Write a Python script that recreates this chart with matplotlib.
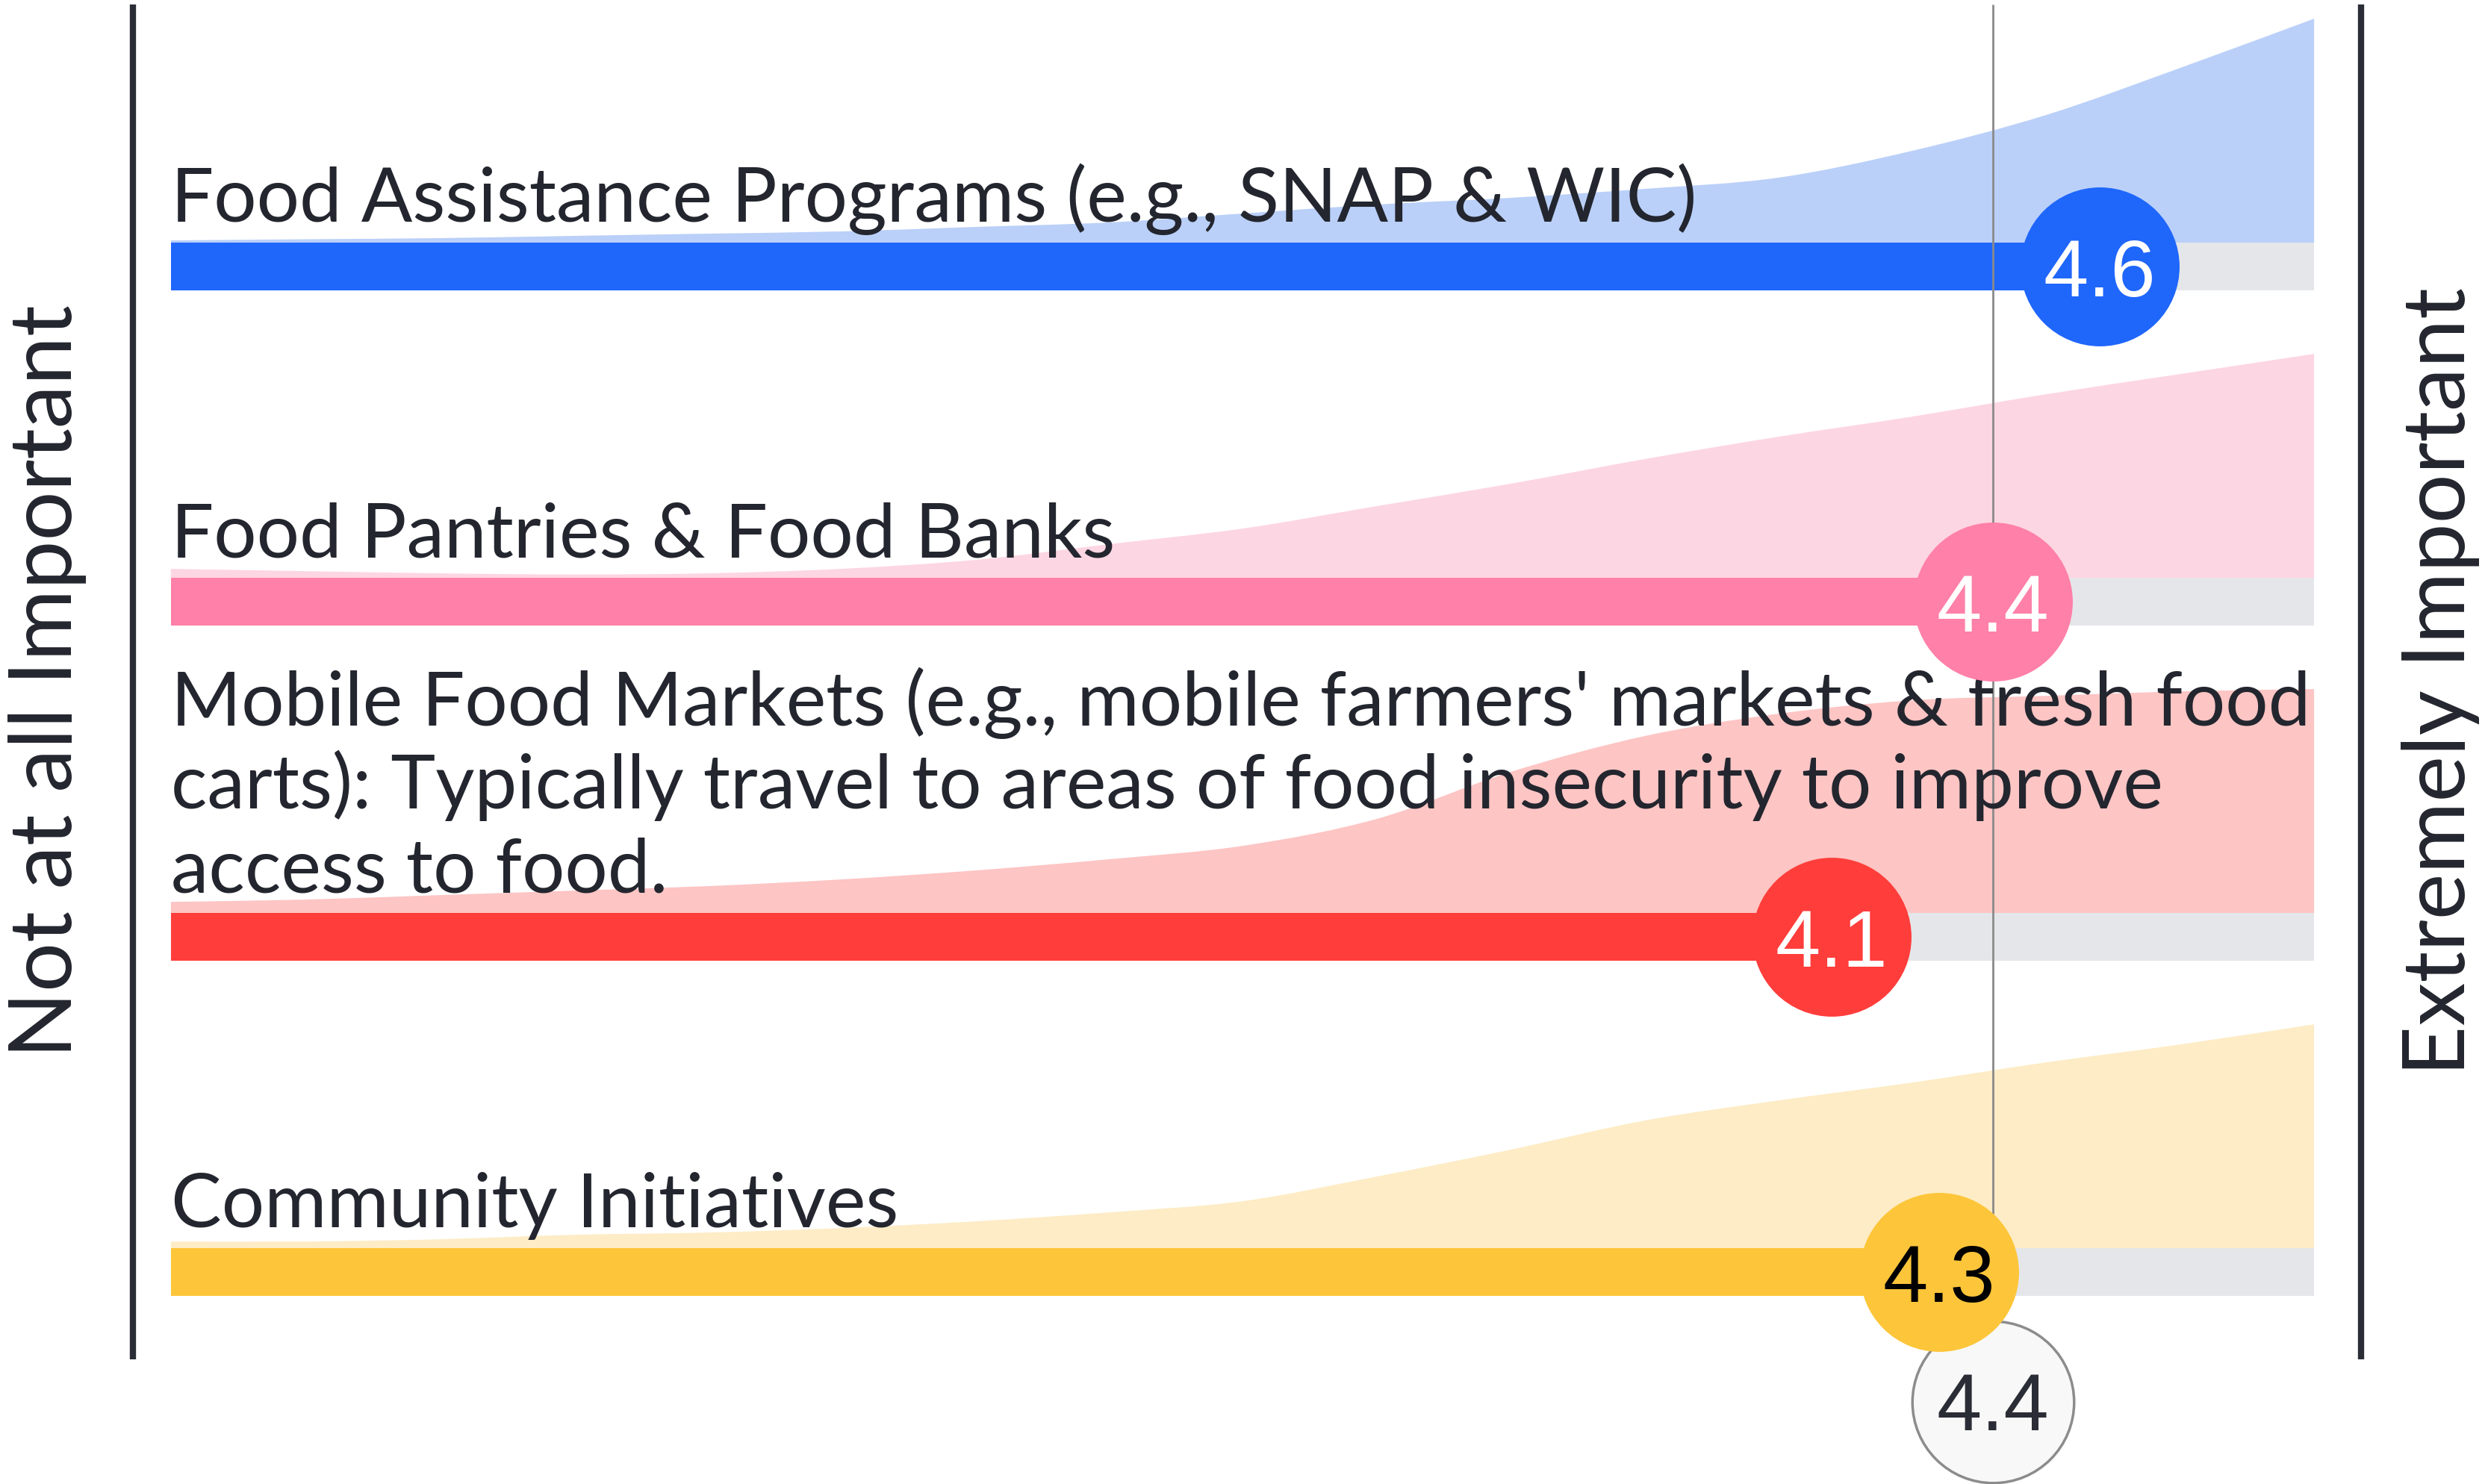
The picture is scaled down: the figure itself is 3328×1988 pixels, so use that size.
import numpy as np
import matplotlib.pyplot as plt
from matplotlib.path import Path
from matplotlib.patches import PathPatch

categories = [
    "Food Assistance Programs (e.g., SNAP & WIC)",
    "Food Pantries & Food Banks",
    "Mobile Food Markets (e.g., mobile farmers' markets & fresh food\n"
    "carts): Typically travel to areas of food insecurity to improve\n"
    "access to food.",
    "Community Initiatives",
]
means = [4.6, 4.4, 4.1, 4.3]
overall_mean = 4.4

bar_colors = ["#1f66fb", "#ff80a8", "#ff3d3b", "#fdc539"]
area_colors = ["#bad0f9", "#fdd6e3", "#fdc5c4", "#fdecc5"]
number_colors = ["white", "white", "white", "black"]

# points on the 1-5 importance scale where the ridge heights were read
scale_points = [1.0, 1.25, 1.5, 1.75, 2.0, 2.25, 2.5, 2.75, 3.0,
                3.25, 3.5, 3.75, 4.0, 4.25, 4.5, 4.75, 5.0]
# relative response density per row (tallest point = 100)
density_assistance = [1, 1.5, 2, 3, 4, 5, 7, 9, 13, 17, 20, 24, 29, 41, 57, 78, 100]
density_pantries = [4, 3, 2, 1.5, 2, 4, 8, 15, 22, 32, 42, 53, 63, 72, 82, 91, 100]
density_mobile = [5, 6, 8, 10, 12, 15, 19, 24, 30, 42, 63, 79, 89, 95, 97, 99, 100]
density_community = [3, 3, 4, 6, 7, 9, 12, 16, 21, 32, 44, 57, 66, 74, 83, 91, 100]
densities = [density_assistance, density_pantries, density_mobile, density_community]

text_color = "#23262e"
track_color = "#e4e6e9"
bar_h = 0.1425
ridge_h = 0.668


def ridge_path(xs, base, heights):
    """Closed path: smooth (Catmull-Rom as cubic Bezier) top edge, flat base."""
    pts = np.column_stack([xs, base - np.asarray(heights) / 100 * ridge_h])
    verts = [(xs[0], base), tuple(pts[0])]
    codes = [Path.MOVETO, Path.LINETO]
    for k in range(len(pts) - 1):
        p0 = pts[max(k - 1, 0)]
        p1, p2 = pts[k], pts[k + 1]
        p3 = pts[min(k + 2, len(pts) - 1)]
        c1 = p1 + (p2 - p0) / 6
        c2 = p2 - (p3 - p1) / 6
        verts += [tuple(c1), tuple(c2), tuple(p2)]
        codes += [Path.CURVE4] * 3
    verts += [(xs[-1], base), (xs[0], base)]
    codes += [Path.LINETO, Path.CLOSEPOLY]
    return Path(verts, codes)


fig = plt.figure(figsize=(33.28, 19.88), dpi=100)
ax = fig.add_axes([0, 0, 1, 1])
ax.set_xlim(0.681, 5.319)
ax.set_ylim(3.632, -0.795)
ax.axis("off")

lo, hi = scale_points[0], scale_points[-1]
n = len(categories)

for i, (label, m, d) in enumerate(zip(categories, means, densities)):
    top = i - bar_h / 2
    ax.add_patch(PathPatch(ridge_path(scale_points, top, d),
                           facecolor=area_colors[i], lw=0, zorder=1))
    ax.barh(i, hi - lo, left=lo, height=bar_h, color=track_color, zorder=2)
    ax.barh(i, m - lo, left=lo, height=bar_h, color=bar_colors[i], zorder=3)
    ax.scatter(m, i, s=23500, color=bar_colors[i], lw=0, zorder=6)
    ax.text(m, i + 0.089, f"{m:.1f}", ha="center", va="baseline",
            fontsize=78, family="Liberation Sans", color=number_colors[i], zorder=7)
    lines = label.split("\n")
    for j, line in enumerate(reversed(lines)):
        ax.text(lo, top - 0.062 - j * 0.249, line, ha="left", va="baseline",
                fontsize=73, family="Lato", color=text_color, zorder=5)

# overall average marker
avg_y = n - 1 + 0.387
ax.vlines(overall_mean, -0.782, avg_y, color="#8a8a8a", lw=2, zorder=4)
ax.scatter(overall_mean, avg_y, s=24300, color="#f8f8f8", edgecolor="#8c8c8c",
           lw=2.5, zorder=5)
ax.text(overall_mean, avg_y + 0.085, f"{overall_mean:.1f}", ha="center", va="baseline",
        fontsize=78, family="Liberation Sans", color="#2a2d35", zorder=6)

# scale end rules and labels
ax.vlines([lo - 0.071, hi + 0.088], -0.782, 3.26, color="#2a2d35", lw=6, zorder=4)
ax.text(0.770, 1.238, "Not at all Important", rotation=90, ha="center", va="center",
        fontsize=84, family="Lato", color=text_color)
ax.text(5.236, 1.238, "Extremely Important", rotation=90, ha="center", va="center",
        fontsize=84, family="Lato", color=text_color)

fig.savefig("out.png", dpi=100, facecolor="white")
